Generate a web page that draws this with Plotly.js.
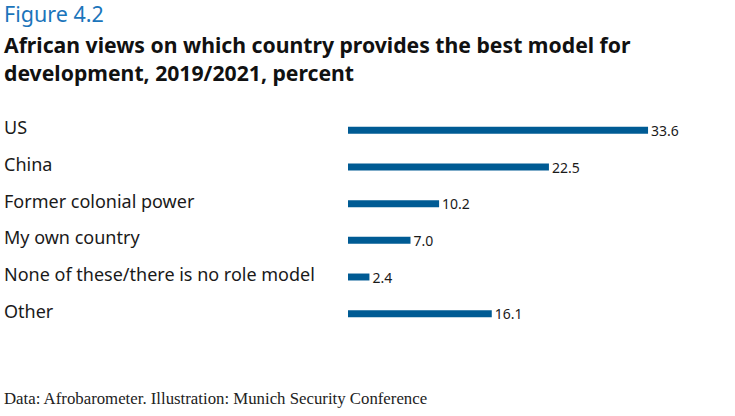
<!DOCTYPE html>
<html><head><meta charset="utf-8">
<script src="https://cdn.plot.ly/plotly-3.0.1.min.js"></script>
<style>html,body{margin:0;padding:0;background:#fff;}#chart{width:735px;height:416px;}</style>
</head><body><div id="chart"></div>
<script>
const categories = ["US","China","Former colonial power","My own country","None of these/there is no role model","Other"];
const values = [33.6, 22.5, 10.2, 7.0, 2.4, 16.1];
const valueLabels = ["33.6","22.5","10.2","7.0","2.4","16.1"];

const L = 348, R = 47, T = 111.5, B = 83.5;
const W = 735 - L - R, H = 416 - T - B;
const px = v => (v - L) / W;
const py = v => 1 - (v - T) / H;
const labelAnn = categories.map(c => ({
  text: c, xref: 'paper', yref: 'y', x: px(2), y: c,
  xanchor: 'left', yanchor: 'middle', showarrow: false,
  font: {family: 'Noto Sans, sans-serif', size: 18, color: '#1a1a1a'}, yshift: 3
}));
const ann = labelAnn.concat([
  {text: 'Figure 4.2', xref: 'paper', yref: 'paper', x: px(2), y: py(13),
   xanchor: 'left', yanchor: 'middle', showarrow: false,
   font: {family: 'Noto Sans, sans-serif', size: 21.5, color: '#1b75bb'}},
  {text: '<b>African views on which country provides the best model for</b>', xref: 'paper', yref: 'paper',
   x: px(2), y: py(44), xanchor: 'left', yanchor: 'middle', showarrow: false,
   font: {family: 'Noto Sans, sans-serif', size: 21.2, color: '#111'}},
  {text: '<b>development, 2019/2021, percent</b>', xref: 'paper', yref: 'paper',
   x: px(2), y: py(72), xanchor: 'left', yanchor: 'middle', showarrow: false,
   font: {family: 'Noto Sans, sans-serif', size: 21.2, color: '#111'}},
  {text: 'Data: Afrobarometer. Illustration: Munich Security Conference', xref: 'paper', yref: 'paper',
   x: px(2), y: py(399.5), xanchor: 'left', yanchor: 'middle', showarrow: false,
   font: {family: 'Liberation Serif, serif', size: 16.8, color: '#222'}}
]);

Plotly.newPlot('chart', [{
  type: 'bar', orientation: 'h', y: categories, x: values,
  text: valueLabels, textposition: 'outside', cliponaxis: false, constraintext: 'none',
  textfont: {family: 'Noto Sans, sans-serif', size: 14, color: '#1a1a1a'},
  marker: {color: '#005b94'}, width: 0.19, hoverinfo: 'none'
}], {
  width: 735, height: 416,
  margin: {l: L, r: R, t: T, b: B},
  paper_bgcolor: '#fff', plot_bgcolor: '#fff',
  xaxis: {range: [0, W / 8.93], visible: false, fixedrange: true},
  yaxis: {autorange: 'reversed', showticklabels: false, showgrid: false, zeroline: false, showline: false, ticks: ''},
  showlegend: false, annotations: ann
}, {displayModeBar: false, staticPlot: true});
</script></body></html>
